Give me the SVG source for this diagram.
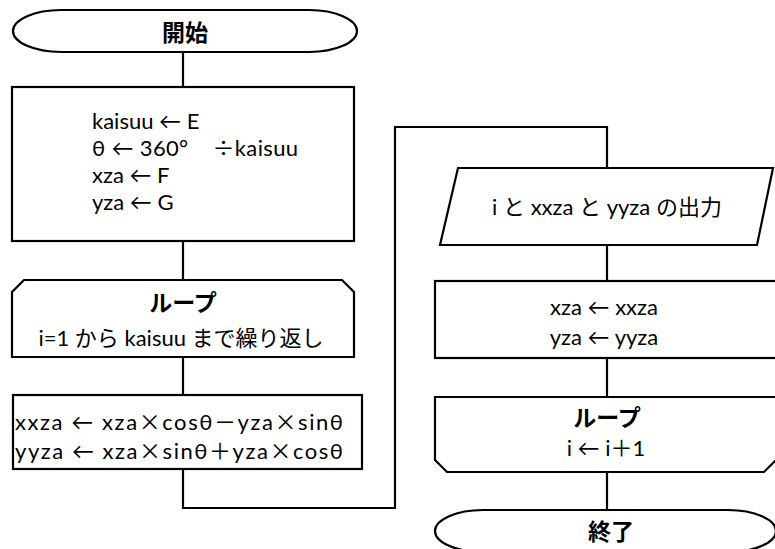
<svg xmlns="http://www.w3.org/2000/svg" width="775" height="549" viewBox="0 0 775 549">
<style>
.s{fill:#fff;stroke:#000;stroke-width:2.2}
.c{fill:none;stroke:#000;stroke-width:2.2}
text{font-family:"Lato","Noto Sans CJK JP",sans-serif;font-size:22px;fill:#000}
.j{font-family:"Noto Sans CJK JP",sans-serif}
.m{text-anchor:middle}
.b{font-weight:bold;font-size:23px}
</style>
<rect width="775" height="549" fill="#fff"/>
<g id="connectors">
<path class="c" d="M183,52V87"/>
<path class="c" d="M183,241V280"/>
<path class="c" d="M183,357V395"/>
<path class="c" d="M183,469V508H395V127H607V168"/>
<path class="c" d="M607,245V281"/>
<path class="c" d="M607,358V397"/>
<path class="c" d="M607,472V510"/>
</g>
<g id="start">
<rect class="s" x="13" y="10" width="344" height="42" rx="48" ry="21"/>
<text class="m b j" x="185" y="41">開始</text>
</g>
<g id="init">
<rect class="s" x="12" y="87" width="342" height="154"/>
<text x="92" y="129">kaisuu ← E</text>
<text x="92" y="156" style="white-space:pre" textLength="206" lengthAdjust="spacing">θ ← 360°    <tspan class="j">÷</tspan>kaisuu</text>
<text x="92" y="183">xza ← F</text>
<text x="92" y="210">yza ← G</text>
</g>
<g id="loopStart">
<path class="s" d="M24,280H342L354,292V357H12V292Z"/>
<text class="m b j" x="183" y="311">ループ</text>
<text class="m" x="181" y="346">i=1 から kaisuu まで繰り返し</text>
</g>
<g id="rotate">
<rect class="s" x="13" y="395" width="349" height="74"/>
<text x="15" y="430" textLength="328" lengthAdjust="spacing">xxza ← xza<tspan class="j">×</tspan>cosθ－yza<tspan class="j">×</tspan>sinθ</text>
<text x="15" y="459" textLength="328" lengthAdjust="spacing">yyza ← xza<tspan class="j">×</tspan>sinθ＋yza<tspan class="j">×</tspan>cosθ</text>
</g>
<g id="output">
<path class="s" d="M458,168H773L757,245H440Z"/>
<text class="m" x="607" y="215">i と xxza と yyza の出力</text>
</g>
<g id="update">
<rect class="s" x="435" y="281" width="344" height="77"/>
<text class="m" x="604" y="315">xza ← xxza</text>
<text class="m" x="604" y="345">yza ← yyza</text>
</g>
<g id="loopEnd">
<path class="s" d="M435,397H777V459L764,472H447L435,460Z"/>
<text class="m b j" x="607" y="426">ループ</text>
<text class="m" x="606" y="456" style="white-space:pre">i ← i＋1</text>
</g>
<g id="end">
<rect class="s" x="435" y="510" width="341" height="42" rx="48" ry="21"/>
<text class="m b j" x="611" y="540">終了</text>
</g>
</svg>
